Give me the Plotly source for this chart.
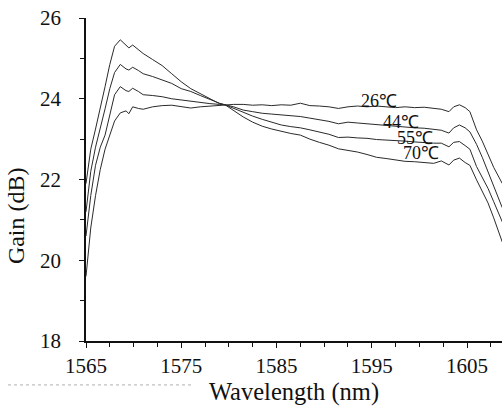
import plotly.graph_objects as go

wavelength = [1565, 1565.5, 1566, 1566.5, 1567, 1567.5, 1568, 1568.6, 1569.2, 1569.5,
              1569.9, 1570.5, 1571, 1572, 1573, 1574, 1575, 1576, 1577, 1578,
              1579, 1579.6, 1580.5, 1581.5, 1582.5, 1583.5, 1584.5, 1585.5, 1586.5, 1587.5,
              1588.5, 1589.5, 1590.5, 1591.5, 1592.5, 1593.5, 1594.5, 1595.5, 1596.5, 1597.5,
              1598.5, 1599.5, 1600.5, 1601.5, 1602.3, 1603.1, 1603.6, 1604.2, 1604.8, 1605.3,
              1606, 1606.6, 1607.2, 1607.8, 1608.7]

gain_70 = [21.9, 22.75, 23.25, 23.75, 24.3, 24.85, 25.3, 25.46, 25.32, 25.26,
           25.33, 25.22, 25.12, 24.97, 24.82, 24.62, 24.42, 24.25, 24.12, 24.0,
           23.88, 23.85, 23.7, 23.55, 23.42, 23.32, 23.25, 23.19, 23.14, 23.1,
           23.0, 22.92, 22.85, 22.76, 22.72, 22.68, 22.62, 22.55, 22.52, 22.48,
           22.45, 22.44, 22.42, 22.4, 22.46, 22.36, 22.48, 22.53, 22.42, 22.35,
           21.99, 21.7, 21.42, 21.05, 20.45]

gain_55 = [21.2, 22.2, 22.8, 23.25, 23.75, 24.25, 24.65, 24.85, 24.74, 24.71,
           24.78, 24.7, 24.62, 24.55, 24.47, 24.38, 24.25, 24.18, 24.08, 23.98,
           23.89, 23.85, 23.76, 23.65, 23.57, 23.49, 23.42, 23.35, 23.31, 23.28,
           23.23, 23.18, 23.12, 23.04, 23.05, 23.03, 23.02, 22.99, 22.98, 22.96,
           22.95, 22.93, 22.91, 22.9, 22.9, 22.81, 22.92, 22.94, 22.84, 22.75,
           22.32, 22.05, 21.78, 21.45, 20.95]

gain_44 = [20.6, 21.6, 22.35, 22.8, 23.1, 23.6, 24.1, 24.3, 24.2, 24.18,
           24.26, 24.18, 24.1, 24.08, 24.05, 24.0, 23.97, 23.93, 23.9, 23.88,
           23.86, 23.85, 23.8, 23.72, 23.68, 23.64, 23.62, 23.6, 23.58, 23.56,
           23.52, 23.48, 23.44, 23.38, 23.42, 23.4, 23.38, 23.35, 23.33, 23.31,
           23.3, 23.28, 23.27, 23.25, 23.22, 23.15, 23.28, 23.35, 23.28, 23.18,
           22.87, 22.55, 22.2, 21.85, 21.3]

gain_26 = [19.6, 20.8, 21.6, 22.25, 22.75, 23.1, 23.45, 23.65, 23.7, 23.63,
           23.8, 23.76, 23.74, 23.8, 23.83, 23.84, 23.8, 23.77, 23.8, 23.82,
           23.84, 23.85, 23.86, 23.86, 23.84, 23.85, 23.83, 23.85, 23.84, 23.89,
           23.83, 23.82, 23.8, 23.76, 23.8, 23.82, 23.8, 23.82, 23.8, 23.78,
           23.8, 23.78, 23.79, 23.76, 23.74, 23.68, 23.8, 23.85, 23.78, 23.68,
           23.23, 22.95, 22.6, 22.3, 21.9]

series_labels = ["26℃", "44℃", "55℃", "70℃"]
label_x = [1595.8, 1598.1, 1599.5, 1600.2]
label_y = [23.94, 23.43, 23.03, 22.65]

x_tick_vals = [1565, 1575, 1585, 1595, 1605]
y_tick_vals = [18, 20, 22, 24, 26]

SERIF = "Liberation Serif"

fig = go.Figure()
for name, ys in zip(series_labels, [gain_26, gain_44, gain_55, gain_70]):
    fig.add_trace(go.Scatter(x=wavelength, y=ys, mode="lines", name=name,
                             line=dict(color="#2a2a2a", width=1), showlegend=False))

for t, lx, ly in zip(series_labels, label_x, label_y):
    fig.add_annotation(x=lx, y=ly, text=t, showarrow=False, xanchor="center", yanchor="middle",
                       font=dict(family=SERIF, size=18, color="#111"))

# y-axis title (sits below the axis centre in the reference)
fig.add_annotation(xref="paper", yref="paper", x=-0.168, y=0.387, text="Gain (dB)", textangle=-90,
                   showarrow=False, xanchor="center", yanchor="middle",
                   font=dict(family=SERIF, size=24, color="#111"))

# faint dotted artifact line under the axis labels
fig.add_shape(type="line", xref="paper", yref="paper", x0=-0.1875, x1=0.2548, y0=-0.136, y1=-0.136,
              line=dict(color="#b0b0b0", width=1, dash="dot"))

fig.update_layout(
    width=502, height=408,
    margin=dict(l=86, r=0, t=18, b=67),
    paper_bgcolor="white", plot_bgcolor="white",
    font=dict(family=SERIF, color="#111"),
    xaxis=dict(range=[1565, 1608.67], tickvals=x_tick_vals, ticktext=[str(v) for v in x_tick_vals],
               automargin=False,
               showgrid=False, zeroline=False, showline=True, linecolor="#111", linewidth=1.5,
               ticks="outside", ticklen=5, tickcolor="#111", tickfont=dict(size=21, family=SERIF),
               minor=dict(dtick=2.5, tick0=1565, ticks="outside", ticklen=4, tickcolor="#111"),
               title=dict(text="Wavelength (nm)", font=dict(size=24.5, family=SERIF), standoff=2)),
    yaxis=dict(range=[18, 26], tickvals=y_tick_vals, ticktext=[str(v) for v in y_tick_vals],
               automargin=False, ticklabelstandoff=14,
               showgrid=False, zeroline=False, showline=True, linecolor="#111", linewidth=1.5,
               ticks="outside", ticklen=5, tickcolor="#111", tickfont=dict(size=21, family=SERIF),
               minor=dict(dtick=1, tick0=18, ticks="outside", ticklen=4, tickcolor="#111")),
)

fig.write_html("out.html", config={"displayModeBar": False},
               post_script="document.body.style.margin='0';document.body.style.padding='0';")
